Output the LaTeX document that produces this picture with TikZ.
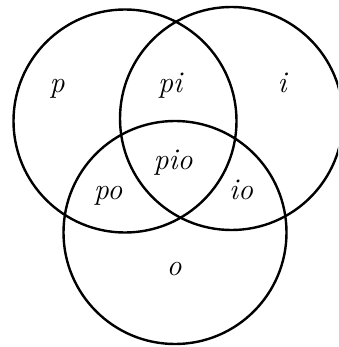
\documentclass[tikz,border=0pt]{standalone}
\usepackage{tikz}
\tikzset{
  setcircle/.style={
    draw,
    circle,
    line width=2.4pt,
    inner sep=0pt,
    minimum size=223pt
  },
  setlabel/.style={
    anchor=base,
    inner sep=0pt,
    font=\fontsize{30}{34}\selectfont\itshape
  }
}

\begin{document}
\begin{tikzpicture}[x=1pt,y=-1pt]
\clip (0,0) rectangle (338,347);
\useasboundingbox (0,0) rectangle (338,347);
% the three sets
\node[setcircle] (P) at (125,121) {};
\node[setcircle] (I) at (231.5,118.5) {};
\node[setcircle] (O) at (175,232.5) {};
% region labels
\node[setlabel] (lp) at (57,93) {p};
\node[setlabel] (lpi) at (170,93) {pi};
\node[setlabel] (li) at (282,93) {i};
\node[setlabel] (lpio) at (173,169) {pio};
\node[setlabel] (lpo) at (108,199) {po};
\node[setlabel] (lio) at (241,199) {io};
\node[setlabel] (lo) at (174,275) {o};
\end{tikzpicture}
\end{document}
